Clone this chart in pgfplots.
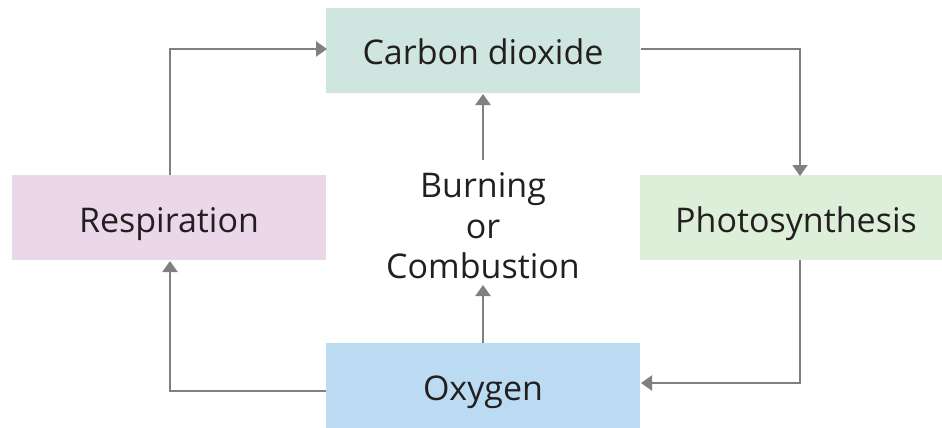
\documentclass[border=0pt]{standalone}
\usepackage{pgfplots}
\pgfplotsset{compat=1.18}
\usetikzlibrary{arrows.meta}
\usepackage{fontspec}
\setmainfont{Open Sans}
\definecolor{cotwo}{HTML}{CFE6E0}
\definecolor{resp}{HTML}{EAD8EA}
\definecolor{photo}{HTML}{DEEFD9}
\definecolor{oxy}{HTML}{BADBF2}
\definecolor{arr}{HTML}{808080}
\definecolor{txt}{HTML}{231F20}
\begin{document}
\begin{tikzpicture}[x=1pt,y=1pt]
\begin{axis}[
  width=942pt, height=428pt, scale only axis,
  xmin=0, xmax=942, ymin=0, ymax=428, y dir=reverse,
  hide axis, clip=false,
]
\path (axis cs:0,0) rectangle (axis cs:942,428);
% boxes
\addplot[fill=cotwo, draw=none] coordinates {(326,8) (640,8) (640,93) (326,93)} --cycle;
\addplot[fill=resp, draw=none] coordinates {(12,175) (326,175) (326,260) (12,260)} --cycle;
\addplot[fill=photo, draw=none] coordinates {(640,175) (942,175) (942,260) (640,260)} --cycle;
\addplot[fill=oxy, draw=none] coordinates {(326,343) (640,343) (640,428) (326,428)} --cycle;
% arrows
\tikzset{ar/.style={draw=arr, line width=2.2pt, -{Triangle[width=15pt,length=11pt]}}}
\addplot[ar] coordinates {(170,175) (170,49) (327,49)};
\addplot[ar] coordinates {(641,49) (800,49) (800,176)};
\addplot[ar] coordinates {(800,260) (800,383) (641,383)};
\addplot[ar] coordinates {(326,391) (170,391) (170,261)};
\addplot[ar] coordinates {(483,343) (483,285)};
\addplot[ar] coordinates {(483,160) (483,94)};
% labels
\tikzset{lab/.style={text=txt, font=\fontsize{34}{40}\selectfont, anchor=base, inner sep=0pt}}
\node[lab] at (axis cs:483,65) {Carbon dioxide};
\node[lab] at (axis cs:169,232) {Respiration};
\node[lab] at (axis cs:796,232) {Photosynthesis};
\node[lab] at (axis cs:483,400) {Oxygen};
\node[lab] at (axis cs:483,197) {Burning};
\node[lab] at (axis cs:483,238) {or};
\node[lab] at (axis cs:483,278) {Combustion};
\end{axis}
\end{tikzpicture}
\end{document}
